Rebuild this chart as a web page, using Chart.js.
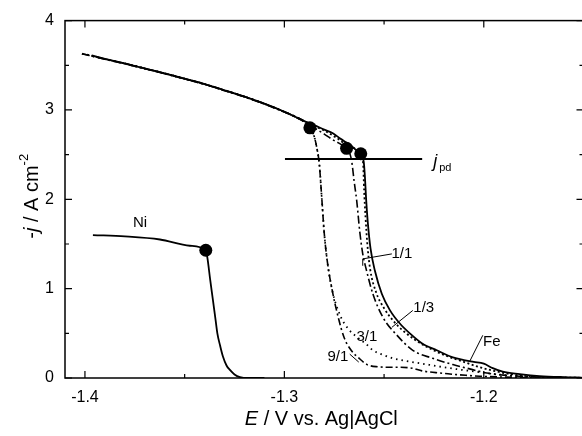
<!DOCTYPE html>
<html><head><meta charset="utf-8">
<script src="https://cdn.jsdelivr.net/npm/chart.js@4.4.1/dist/chart.umd.min.js"></script>
<style>html,body{margin:0;padding:0;background:#fff;overflow:hidden}</style>
</head><body>
<canvas id="c" width="590" height="436" style="width:590px;height:436px;display:block"></canvas>
<script>
// ---- tick labels ----
const xTickValues = [-1.4, -1.3, -1.2];
const xTickLabels = ['-1.4', '-1.3', '-1.2'];
const xMinorTicks = [-1.35, -1.25, -1.15];
const yTickValues = [0, 1, 2, 3, 4];
const yTickLabels = ['0', '1', '2', '3', '4'];
const yMinorTicks = [0.5, 1.5, 2.5, 3.5];

// ---- series: E (V) and -j (A cm^-2) ----
const niE = [-1.396, -1.380, -1.3624, -1.3474, -1.3394, -1.3385, -1.3372, -1.3358, -1.3345, -1.3336, -1.3322, -1.3308, -1.3290, -1.3273, -1.3250, -1.3223, -1.3180, -1.3100];
const niJ = [1.600, 1.585, 1.550, 1.480, 1.430, 1.330, 1.100, 0.870, 0.650, 0.500, 0.360, 0.240, 0.140, 0.090, 0.040, 0.010, 0.000, 0.000];

const feE = [-1.3965, -1.390, -1.380, -1.370, -1.360, -1.350, -1.340, -1.330, -1.320, -1.310, -1.300, -1.295, -1.290, -1.285, -1.280, -1.2757, -1.2720, -1.2672, -1.2640, -1.2617, -1.2602, -1.2596, -1.2590, -1.2582, -1.2568, -1.2546, -1.2511, -1.2471, -1.2421, -1.2371, -1.2311, -1.2236, -1.2155, -1.2100, -1.2050, -1.2000, -1.1955, -1.1905, -1.1820, -1.1720, -1.1600, -1.1509];
const feJ = [3.610, 3.572, 3.520, 3.465, 3.410, 3.350, 3.290, 3.220, 3.150, 3.070, 2.980, 2.930, 2.875, 2.830, 2.780, 2.740, 2.680, 2.610, 2.550, 2.500, 2.420, 2.250, 2.000, 1.750, 1.450, 1.200, 0.940, 0.760, 0.610, 0.500, 0.390, 0.310, 0.230, 0.200, 0.180, 0.160, 0.110, 0.070, 0.044, 0.022, 0.010, 0.005];

const r13E = [-1.399, -1.390, -1.380, -1.370, -1.360, -1.350, -1.340, -1.330, -1.320, -1.310, -1.300, -1.295, -1.290, -1.285, -1.280, -1.274, -1.268, -1.2617, -1.2605, -1.2600, -1.2593, -1.2584, -1.2570, -1.2540, -1.2500, -1.2450, -1.2400, -1.2340, -1.2270, -1.2190, -1.2100, -1.2020, -1.1950, -1.1870, -1.1780, -1.1680, -1.1500];
const r13J = [3.620, 3.570, 3.518, 3.463, 3.408, 3.348, 3.288, 3.218, 3.148, 3.068, 2.978, 2.928, 2.872, 2.820, 2.770, 2.690, 2.600, 2.510, 2.400, 2.100, 1.800, 1.500, 1.220, 0.960, 0.780, 0.630, 0.520, 0.420, 0.330, 0.250, 0.180, 0.120, 0.080, 0.045, 0.020, 0.008, 0.002];

const r11E = [-1.4015, -1.390, -1.380, -1.370, -1.360, -1.350, -1.340, -1.330, -1.320, -1.310, -1.300, -1.295, -1.290, -1.285, -1.280, -1.276, -1.272, -1.2688, -1.2670, -1.2662, -1.2650, -1.2637, -1.2622, -1.2607, -1.2591, -1.2556, -1.2506, -1.2436, -1.2356, -1.2256, -1.2155, -1.2085, -1.1985, -1.1900, -1.1820, -1.1620, -1.1500];
const r11J = [3.630, 3.568, 3.516, 3.462, 3.406, 3.346, 3.286, 3.216, 3.146, 3.066, 2.976, 2.926, 2.870, 2.800, 2.730, 2.670, 2.620, 2.570, 2.500, 2.420, 2.200, 1.980, 1.640, 1.390, 1.230, 0.940, 0.680, 0.480, 0.310, 0.220, 0.150, 0.110, 0.056, 0.032, 0.020, 0.005, 0.000];

const r31E = [-1.4015, -1.390, -1.380, -1.370, -1.360, -1.350, -1.340, -1.330, -1.320, -1.310, -1.300, -1.295, -1.290, -1.2872, -1.2850, -1.2835, -1.2825, -1.2812, -1.2800, -1.2785, -1.2760, -1.2720, -1.2680, -1.2637, -1.2590, -1.2556, -1.2500, -1.2456, -1.2390, -1.2320, -1.2240, -1.2170, -1.2090, -1.2020, -1.1950, -1.1850, -1.1750, -1.1650, -1.1500];
const r31J = [3.630, 3.570, 3.520, 3.465, 3.410, 3.350, 3.290, 3.220, 3.150, 3.070, 2.980, 2.930, 2.870, 2.800, 2.700, 2.550, 2.400, 2.000, 1.620, 1.310, 0.980, 0.700, 0.550, 0.460, 0.380, 0.310, 0.255, 0.220, 0.190, 0.165, 0.135, 0.110, 0.085, 0.065, 0.045, 0.025, 0.012, 0.005, 0.000];

const r91E = [-1.4015, -1.390, -1.380, -1.370, -1.360, -1.350, -1.340, -1.330, -1.320, -1.310, -1.300, -1.295, -1.290, -1.2872, -1.2850, -1.2835, -1.2825, -1.2812, -1.2800, -1.2785, -1.2760, -1.2730, -1.2700, -1.2665, -1.2625, -1.2585, -1.2530, -1.2470, -1.2420, -1.2360, -1.2310, -1.2240, -1.2170, -1.2090, -1.2020, -1.1900, -1.1800, -1.1650, -1.1500];
const r91J = [3.630, 3.570, 3.520, 3.465, 3.410, 3.350, 3.290, 3.220, 3.150, 3.070, 2.980, 2.930, 2.870, 2.800, 2.700, 2.550, 2.400, 2.000, 1.620, 1.310, 0.980, 0.680, 0.450, 0.310, 0.220, 0.150, 0.125, 0.120, 0.120, 0.110, 0.080, 0.060, 0.045, 0.030, 0.020, 0.010, 0.004, 0.000, 0.000];

// break points (filled circles) and the j_pd level
const markerE = [-1.3394, -1.2872, -1.2688, -1.2617];
const markerJ = [1.430, 2.800, 2.570, 2.510];
const jpdE = [-1.2997, -1.2309];
const jpdJ = [2.45, 2.45];

// curve labels (data coordinates of their centres) and leader lines
const labelTexts = ['Ni', '1/1', '1/3', '3/1', '9/1', 'Fe'];
const labelE = [-1.3724, -1.2411, -1.2301, -1.2586, -1.2732, -1.1960];
const labelJ = [1.733, 1.389, 0.789, 0.456, 0.233, 0.400];
const leaderLines = [
  [[-1.2461, 1.389], [-1.2607, 1.333], [-1.2607, 1.256]],
  [[-1.2356, 0.756], [-1.2461, 0.567]],
  [[-1.2672, 0.267], [-1.2627, 0.178]],
  [[-1.2005, 0.478], [-1.2070, 0.189]]
];

const pts = (E, J) => E.map((e, i) => ({x: e, y: J[i]}));
const FONT = '"Liberation Sans", Arial, Helvetica, sans-serif';

function curve(label, E, J, dash, w) {
  return {label, data: pts(E, J), showLine: true, borderColor: '#000', borderWidth: w || 1.8,
    borderDash: dash, pointRadius: 0, fill: false, cubicInterpolationMode: 'monotone', borderCapStyle: 'butt'};
}

const deco = {
  id: 'deco',
  afterDatasetsDraw(chart) {
    const {ctx, chartArea: a, scales: {x, y}} = chart;
    ctx.save();
    ctx.strokeStyle = '#000';
    ctx.fillStyle = '#000';
    ctx.lineWidth = 1.5;
    ctx.strokeRect(a.left, a.top, a.right - a.left, a.bottom - a.top);
    ctx.lineWidth = 1.2;
    const tx = (v, len) => { const p = x.getPixelForValue(v);
      ctx.beginPath(); ctx.moveTo(p, a.bottom); ctx.lineTo(p, a.bottom - len);
      ctx.moveTo(p, a.top); ctx.lineTo(p, a.top + len); ctx.stroke(); };
    const ty = (v, len) => { const p = y.getPixelForValue(v);
      ctx.beginPath(); ctx.moveTo(a.left, p); ctx.lineTo(a.left + len, p);
      ctx.moveTo(a.right, p); ctx.lineTo(a.right - len, p); ctx.stroke(); };
    xTickValues.forEach(v => tx(v, 7)); xMinorTicks.forEach(v => tx(v, 4));
    yTickValues.forEach(v => ty(v, 7)); yMinorTicks.forEach(v => ty(v, 4));

    // leader lines
    ctx.lineWidth = 1;
    leaderLines.forEach(L => { ctx.beginPath();
      L.forEach((p, i) => { const px = x.getPixelForValue(p[0]), py = y.getPixelForValue(p[1]);
        i ? ctx.lineTo(px, py) : ctx.moveTo(px, py); }); ctx.stroke(); });

    // curve labels
    ctx.font = '15px ' + FONT;
    ctx.textAlign = 'center'; ctx.textBaseline = 'middle';
    labelTexts.forEach((t, i) => ctx.fillText(t, x.getPixelForValue(labelE[i]), y.getPixelForValue(labelJ[i])));

    // j_pd label
    const jx = x.getPixelForValue(jpdE[1]) + 11, jy = y.getPixelForValue(jpdJ[0]) + 8;
    ctx.textAlign = 'left'; ctx.textBaseline = 'alphabetic';
    ctx.font = 'italic 18px ' + FONT; ctx.fillText('j', jx, jy);
    ctx.font = '11px ' + FONT; ctx.fillText('pd', jx + 6, jy + 4);

    // x axis title
    const cx = (a.left + a.right) / 2 - 3;
    ctx.font = 'italic 20px ' + FONT;
    const p1 = 'E', p2 = ' / V vs. Ag|AgCl';
    const w1 = ctx.measureText(p1).width;
    ctx.font = '20px ' + FONT;
    const w2 = ctx.measureText(p2).width;
    let sx = cx - (w1 + w2) / 2;
    ctx.font = 'italic 20px ' + FONT; ctx.fillText(p1, sx, 425);
    ctx.font = '20px ' + FONT; ctx.fillText(p2, sx + w1, 425);

    // y axis title (rotated)
    ctx.save();
    ctx.translate(38, (a.top + a.bottom) / 2 - 3);
    ctx.rotate(-Math.PI / 2);
    const s = [['-', '20px ', 0], ['j', 'italic 20px ', 0], [' / A cm', '20px ', 0], ['-2', '13px ', -10]];
    let tot = 0;
    s.forEach(q => { ctx.font = q[1] + FONT; q.push(ctx.measureText(q[0]).width); tot += q[3]; });
    let ox = -tot / 2;
    s.forEach(q => { ctx.font = q[1] + FONT; ctx.fillText(q[0], ox, q[2]); ox += q[3]; });
    ctx.restore();
    ctx.restore();
  }
};

new Chart(document.getElementById('c'), {
  type: 'scatter',
  data: {
    datasets: [
      curve('Ni', niE, niJ, [], 1.8),
      curve('Fe', feE, feJ, [], 1.8),
      curve('1/3', r13E, r13J, [2, 2.5], 1.8),
      curve('1/1', r11E, r11J, [8, 3, 2, 3], 1.6),
      curve('3/1', r31E, r31J, [1.5, 4], 1.8),
      curve('9/1', r91E, r91J, [7, 3, 2, 3], 1.6),
      {label: 'jpd', data: pts(jpdE, jpdJ), showLine: true, borderColor: '#000', borderWidth: 2, pointRadius: 0},
      {label: 'break', data: pts(markerE, markerJ), showLine: false, pointRadius: 6.5, pointBackgroundColor: '#000', pointBorderColor: '#000', pointBorderWidth: 0}
    ]
  },
  options: {
    responsive: false, animation: false, devicePixelRatio: 1,
    layout: {padding: {top: 18, right: 6, left: 0, bottom: 0}},
    plugins: {legend: {display: false}, tooltip: {enabled: false}},
    scales: {
      x: {type: 'linear', min: -1.41, max: -1.15,
        grid: {display: false, drawTicks: false}, border: {display: false},
        afterBuildTicks: s => { s.ticks = xTickValues.map(v => ({value: v})); },
        afterFit: s => { s.height = 58; },
        ticks: {padding: 10, color: '#000', font: {family: FONT, size: 16}, maxRotation: 0,
          callback: v => { const i = xTickValues.findIndex(t => Math.abs(t - v) < 1e-6); return i >= 0 ? xTickLabels[i] : ''; }}},
      y: {type: 'linear', min: 0, max: 4,
        grid: {display: false, drawTicks: false}, border: {display: false},
        afterBuildTicks: s => { s.ticks = yTickValues.map(v => ({value: v})); },
        afterFit: s => { s.width = 65; },
        ticks: {padding: 11, color: '#000', font: {family: FONT, size: 16},
          callback: v => { const i = yTickValues.indexOf(v); return i >= 0 ? yTickLabels[i] : ''; }}}
    }
  },
  plugins: [deco]
});
</script>
</body></html>
